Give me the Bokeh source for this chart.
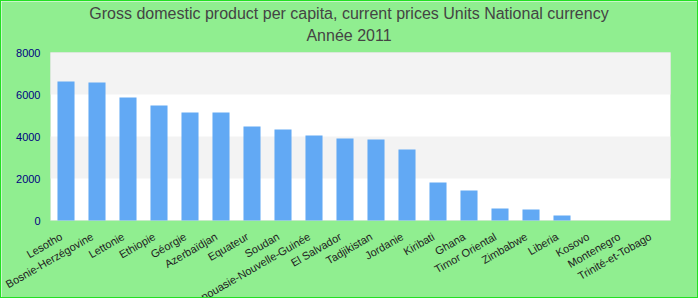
import math
from bokeh.plotting import figure
from bokeh.models import (Range1d, FixedTicker, Label, ColumnDataSource,
                          CustomJSTickFormatter, BoxAnnotation)
from bokeh.embed import file_html
from bokeh.resources import INLINE

title_line1 = "Gross domestic product per capita, current prices Units National currency"
title_line2 = "Année 2011"

countries = ["Lesotho", "Bosnie-Herzégovine", "Lettonie", "Ethiopie", "Géorgie",
             "Azerbaïdjan", "Equateur", "Soudan", "Papouasie-Nouvelle-Guinée",
             "El Salvador", "Tadjikistan", "Jordanie", "Kiribati", "Ghana",
             "Timor Oriental", "Zimbabwe", "Liberia", "Kosovo", "Montenegro",
             "Trinité-et-Tobago"]
values = [6620, 6570, 5860, 5480, 5140, 5140, 4480, 4330, 4050, 3900, 3860,
          3380, 1810, 1430, 570, 520, 240, 0, 0, 0]
y_ticks = [0, 2000, 4000, 6000, 8000]

# layout (pixels of the 698x298 canvas; the frame covers the whole canvas)
W, H = 698, 298
PA_LEFT, PA_RIGHT, PA_TOP, PA_BOTTOM = 49, 669, 51, 219   # plot-area box
LABEL_SHIFT = -0.15      # category labels sit slightly left of the bar centre

n = len(countries)
xs = list(range(n))
src = ColumnDataSource(dict(x=xs, top=values))

x0, x1 = -0.5, n - 0.5
y0, y1 = y_ticks[0], y_ticks[-1]
px_x = (PA_RIGHT - PA_LEFT) / (x1 - x0)
px_y = (PA_BOTTOM - PA_TOP) / (y1 - y0)
x_range = Range1d(x0 - PA_LEFT / px_x, x1 + (W - PA_RIGHT) / px_x)
y_range = Range1d(y0 - (H - PA_BOTTOM) / px_y, y1 + PA_TOP / px_y)

p = figure(width=W, height=H, output_backend="svg", toolbar_location=None,
           x_range=x_range, y_range=y_range,
           min_border_left=0, min_border_right=0, min_border_top=0, min_border_bottom=0,
           styles={"border": "1px solid #22e022"})
p.title.visible = False
p.border_fill_color = "#90EE90"
p.background_fill_color = "#90EE90"
p.outline_line_color = None
p.grid.visible = False

# plot area and alternating bands
p.add_layout(BoxAnnotation(left=x0, right=x1, bottom=y0, top=y1, fill_color="#ffffff",
                           fill_alpha=1, line_color=None, level="underlay"))
for i in range(1, len(y_ticks) - 1, 2):
    p.add_layout(BoxAnnotation(left=x0, right=x1, bottom=y_ticks[i], top=y_ticks[i + 1],
                               fill_color="#f3f3f3", fill_alpha=1, line_color=None,
                               level="underlay"))
p.add_layout(BoxAnnotation(left=x0, right=x1, bottom=y0, top=y1, fill_color=None,
                           fill_alpha=0, line_color="#cccccc", line_width=1,
                           level="underlay"))

p.vbar(x="x", top="top", source=src, width=0.55, fill_color="#62a9f4", line_color=None)

ya = p.yaxis[0]
ya.fixed_location = x0
ya.ticker = FixedTicker(ticks=y_ticks)
ya.axis_line_color = None
ya.major_tick_line_color = None
ya.minor_tick_line_color = None
ya.major_tick_out = 0
ya.major_tick_in = 0
ya.major_label_standoff = 10
ya.major_label_text_color = "#000080"
ya.major_label_text_font = "Liberation Sans"
ya.major_label_text_font_size = "11px"

xa = p.xaxis[0]
xa.fixed_location = y0
xa.ticker = FixedTicker(ticks=[x + LABEL_SHIFT for x in xs])
xa.formatter = CustomJSTickFormatter(args=dict(names=countries),
                                     code="const i = Math.round(tick); return names[i] || '';")
xa.axis_line_color = None
xa.major_tick_line_color = None
xa.minor_tick_line_color = None
xa.major_tick_out = 0
xa.major_tick_in = 0
xa.major_label_orientation = math.pi / 6
xa.major_label_standoff = 15
xa.major_label_text_color = "#222222"
xa.major_label_text_font = "Liberation Sans"
xa.major_label_text_font_size = "11px"

# titles (screen units, measured from the frame's bottom-left corner)
for txt, y_from_top in [(title_line1, 12), (title_line2, 34)]:
    p.add_layout(Label(x=347.5, y=H - y_from_top, x_units="screen", y_units="screen",
                       text=txt, text_align="center", text_baseline="middle",
                       text_font="Liberation Sans", text_font_size="16px",
                       text_color="#444444"))

open("out.html", "w").write(file_html(p, INLINE))
